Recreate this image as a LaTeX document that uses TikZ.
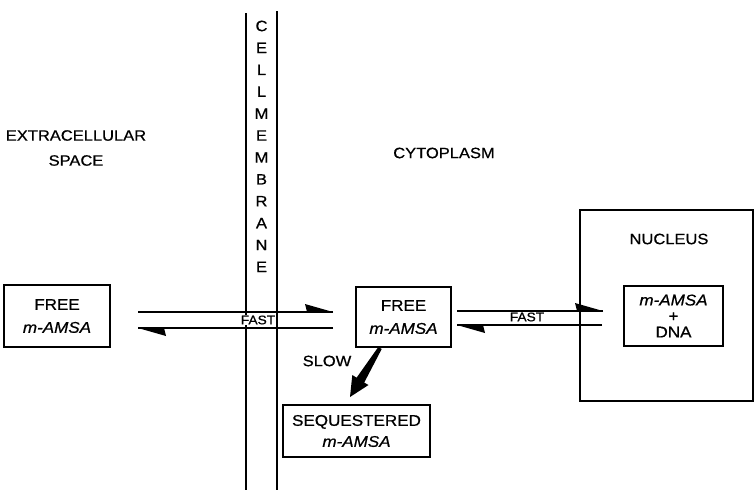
\documentclass[tikz,border=0pt]{standalone}
\usepackage{fontspec}
\setmainfont[FakeStretch=1.1,FakeBold=0.7]{Liberation Sans}
\usetikzlibrary{arrows.meta}
\tikzset{
  lbl/.style={font=\fontsize{15}{25}\selectfont, align=center, inner sep=0pt},
  box/.style={draw, line width=1.5pt, font=\fontsize{15.5}{23}\selectfont, align=center, inner sep=0pt},
  memb/.style={font=\fontsize{15}{15}\selectfont, inner sep=0pt},
  fastlbl/.style={font=\fontsize{12.5}{13}\selectfont, fill=white, inner sep=1pt},
  wall/.style={line width=1.5pt},
  flow/.style={line width=1.8pt},
  barb/.style={fill=black}
}
\begin{document}
\begin{tikzpicture}[x=1pt,y=-1pt]
\useasboundingbox (0,0) rectangle (754,490);
% membrane
\coordinate (mLt) at (246,13); \coordinate (mLb) at (246,490);
\coordinate (mRt) at (277,11); \coordinate (mRb) at (277,490);
\draw[wall] (mLt) -- (mLb);
\draw[wall] (mRt) -- (mRb);
\foreach \ch [count=\i from 0] in {C,E,L,L,M,E,M,B,R,A,N,E}
  \node[memb] (ml\i) at (261.5,{26+21.9*\i}) {\ch};
% region labels
\node[lbl] (extra) at (76,148) {EXTRACELLULAR\\SPACE};
\node[lbl] (cyto) at (444,153) {CYTOPLASM};
% nucleus
\node[draw, wall, minimum width=173pt, minimum height=191pt, anchor=north west, inner sep=0pt] (nucleus) at (579,209) {};
\node[lbl] (nuclbl) at (669,239) {NUCLEUS};
% boxes
\node[box, minimum width=106pt, minimum height=62pt] (free1) at (57,316) {FREE\\\textit{m-AMSA}};
\node[box, minimum width=95pt, minimum height=60pt] (free2) at (403.5,317) {FREE\\\textit{m-AMSA}};
\node[box, minimum width=99pt, minimum height=60pt, font=\fontsize{15.5}{16}\selectfont] (dna) at (673.5,316) {\textit{m-AMSA}\\+\\DNA};
\node[box, minimum width=147pt, minimum height=52pt, font=\fontsize{15.5}{21}\selectfont] (seq) at (356.5,431) {SEQUESTERED\\\textit{m-AMSA}};
% left arrows
\coordinate (a1s) at (138,312); \coordinate (a1e) at (333,312);
\coordinate (a2s) at (333,328); \coordinate (a2e) at (138,328);
\draw[flow] (a1s) -- (a1e);
\fill[barb] (a1e) -- ++(-28,-8) -- ++(2,8) -- cycle;
\draw[flow] (a2s) -- (a2e);
\fill[barb] (a2e) -- ++(28,8) -- ++(-2,-8) -- cycle;
\node[fastlbl] (fast1) at (258,320) {FAST};
% right arrows
\coordinate (b1s) at (457,311); \coordinate (b1e) at (603,311);
\coordinate (b2s) at (602,325); \coordinate (b2e) at (457,325);
\draw[flow] (b1s) -- (b1e);
\fill[barb] (b1e) -- ++(-28,-8) -- ++(2,8) -- cycle;
\draw[flow] (b2s) -- (b2e);
\fill[barb] (b2e) -- ++(28,8) -- ++(-2,-8) -- cycle;
\node[fastlbl, fill=none] (fast2) at (527,317) {FAST};
% slow arrow (wedge)
\coordinate (s1) at (380,348); \coordinate (s2) at (350,397);
\fill (378.3,347) -- (381.7,349) -- (364.2,382.6) -- (368.5,385.0) -- (s2) -- (352.3,375.0) -- (356.6,377.7) -- cycle;
\node[lbl] (slow) at (327,361) {SLOW};
\end{tikzpicture}
\end{document}
